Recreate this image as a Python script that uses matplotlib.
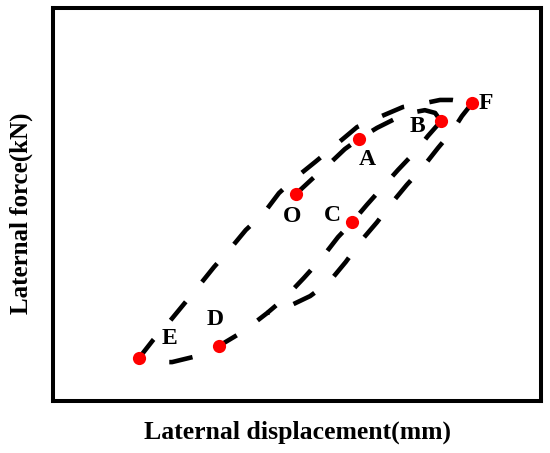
import matplotlib
matplotlib.use("Agg")
import matplotlib.pyplot as plt

# ---- data (arbitrary units) ----
# reloading path E -> F (outer upper branch)
path_EF_x = [17.6, 20.5, 24.0, 29.7, 33.0, 36.3, 39.5, 43.2, 46.3, 49.6, 53.7, 57.4, 62.3, 66.4, 71.7, 76.2, 79.3, 81.8, 85.9]
path_EF_y = [10.9, 15.5, 20.4, 29.0, 34.1, 38.7, 43.5, 47.8, 52.9, 56.7, 60.8, 64.6, 69.7, 72.0, 74.8, 75.8, 76.6, 76.6, 75.8]

# initial loading O -> A -> B
path_OB_x = [49.8, 53.1, 56.4, 59.8, 62.7, 66.4, 70.1, 73.2, 76.2, 78.3, 79.5]
path_OB_y = [52.7, 56.5, 60.1, 64.1, 66.7, 69.5, 71.8, 73.3, 74.0, 73.3, 71.2]

# unloading B -> C -> D -> E
path_BE_x = [79.5, 76.8, 74.6, 70.7, 67.6, 64.3, 61.3, 58.4, 55.1, 51.4, 47.5, 43.9, 39.1, 34.0, 29.7, 24.4, 20.9, 17.6]
path_BE_y = [71.2, 67.4, 63.9, 58.8, 54.5, 49.9, 45.5, 41.7, 36.4, 31.3, 26.2, 22.4, 17.8, 14.0, 11.5, 9.9, 9.9, 10.9]

# unloading F -> (outer lower branch) -> merge
path_F_x = [85.9, 83.8, 82.0, 78.9, 75.8, 72.5, 69.1, 66.4, 63.3, 60.0, 56.6, 52.7, 48.5, 43.9]
path_F_y = [75.8, 72.5, 69.0, 64.4, 59.5, 55.0, 49.9, 45.5, 41.0, 35.4, 30.3, 26.7, 24.2, 22.4]

point_names = ["O", "A", "B", "F", "C", "D", "E"]
point_x = [49.8, 62.7, 79.5, 85.9, 61.3, 34.0, 17.6]
point_y = [52.7, 66.7, 71.2, 75.8, 45.5, 14.0, 10.9]

# label offsets in points (style)
label_offsets = {"O": (-3, -16), "A": (6, -15), "B": (-17, -4), "F": (10, 0),
                 "C": (-14, 5), "D": (-3, 19), "E": (22, 14)}

serif = ["Liberation Serif", "DejaVu Serif"]

fig = plt.figure(figsize=(5.5, 4.53), dpi=100)
ax = fig.add_axes([53 / 550, 1 - 401 / 453, 488 / 550, 393 / 453])

dash = (0, (5.2, 5.6))
lw = 3.3
for xs, ys in [(path_EF_x, path_EF_y), (path_OB_x, path_OB_y),
               (path_BE_x, path_BE_y), (path_F_x, path_F_y)]:
    ax.plot(xs, ys, color="black", lw=lw, linestyle=dash,
            dash_capstyle="butt", zorder=2)

ax.plot(point_x, point_y, "o", color="#ff0000", markersize=9.5, markeredgewidth=0, zorder=3)

for n, x, y in zip(point_names, point_x, point_y):
    dx, dy = label_offsets[n]
    ax.annotate(n, (x, y), xytext=(dx, dy), textcoords="offset points",
                ha="center", va="center", fontsize=17, fontweight="bold",
                family=serif, color="black")

ax.set_xlim(0, 100)
ax.set_ylim(0, 100)
ax.set_xticks([])
ax.set_yticks([])
for s in ax.spines.values():
    s.set_linewidth(2.9)
    s.set_color("black")

ax.set_xlabel("Laternal displacement(mm)", fontsize=18.5, fontweight="bold",
              family=serif, labelpad=14)
ax.set_ylabel("Laternal force(kN)", fontsize=18, fontweight="bold",
              family=serif)
ax.yaxis.set_label_coords(-0.041, 0.478)

fig.savefig("out.png", dpi=100)
